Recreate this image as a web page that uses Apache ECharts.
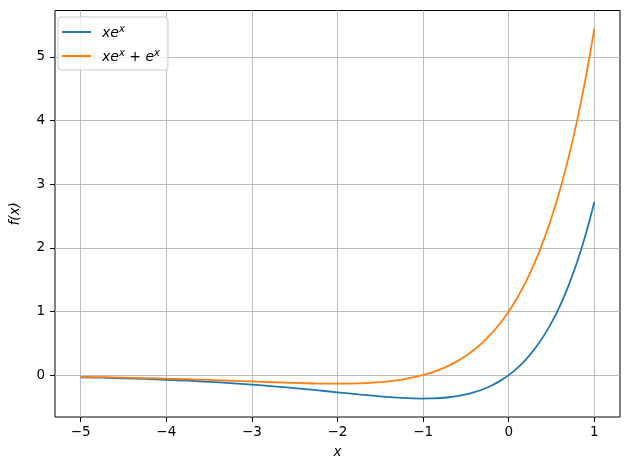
<!DOCTYPE html>
<html>
<head>
<meta charset="utf-8">
<script src="https://cdn.jsdelivr.net/npm/echarts@6/dist/echarts.min.js"></script>
<style>html,body{margin:0;padding:0;background:#fff}#c{width:630px;height:470px}</style>
</head>
<body>
<div id="c"></div>
<script>
const xValues = [-5, -4.75, -4.5, -4.25, -4, -3.75, -3.5, -3.25, -3, -2.75, -2.5, -2.25, -2, -1.75, -1.5, -1.25,
  -1, -0.9, -0.8, -0.7, -0.6, -0.5, -0.4, -0.3, -0.2, -0.1, 0, 0.1, 0.2, 0.3, 0.4, 0.5, 0.6, 0.7, 0.8, 0.9, 1];
const xexValues = [-0.0337, -0.0411, -0.0500, -0.0606, -0.0733, -0.0882, -0.1057, -0.1260, -0.1494, -0.1758, -0.2052, -0.2371, -0.2707, -0.3041, -0.3347, -0.3581,
  -0.3679, -0.3650, -0.3595, -0.3476, -0.3293, -0.3033, -0.2681, -0.2222, -0.1637, -0.0905, 0, 0.1105, 0.2443, 0.4050, 0.5967, 0.8244, 1.0933, 1.4096, 1.7804, 2.2136, 2.7183];
const xexPlusExValues = [-0.0270, -0.0324, -0.0389, -0.0464, -0.0549, -0.0647, -0.0755, -0.0872, -0.0996, -0.1119, -0.1231, -0.1317, -0.1353, -0.1303, -0.1116, -0.0716,
  0, 0.0406, 0.0899, 0.1490, 0.2195, 0.3033, 0.4022, 0.5186, 0.6550, 0.8144, 1, 1.2157, 1.4657, 1.7548, 2.0886, 2.4731, 2.9154, 3.4234, 4.0060, 4.6732, 5.4366];
const xTicks = [-5, -4, -3, -2, -1, 0, 1];
const yTicks = [0, 1, 2, 3, 4, 5];
const seriesNames = ['xex', 'xexex'];

const font = 'DejaVu Sans';
const minus = v => String(v).replace('-', '\u2212');
const chart = echarts.init(document.getElementById('c'), null, {renderer: 'canvas'});

function axisCommon(ticks, margin) {
  return {
    axisLine: {show: false, onZero: false},
    axisTick: {show: true, inside: false, length: 5, customValues: ticks, lineStyle: {color: '#000', width: 1}},
    axisLabel: {customValues: ticks, color: '#000', fontFamily: font, fontSize: 13.5, formatter: minus, margin: margin},
    splitLine: {show: true, customValues: ticks, lineStyle: {color: '#bcbcbc', width: 1}}
  };
}

chart.setOption({
  animation: false,
  backgroundColor: '#fff',
  grid: {left: 50.5, right: 10, top: 10.5, bottom: 53, show: true, borderColor: '#000', borderWidth: 1, backgroundColor: 'transparent', containLabel: false},
  xAxis: Object.assign({
    type: 'value', min: -5.3, max: 1.3,
    name: 'x', nameLocation: 'middle', nameGap: 28,
    nameTextStyle: {fontFamily: font, fontStyle: 'italic', fontSize: 13.5, color: '#000'}
  }, axisCommon(xTicks, 8)),
  yAxis: Object.assign({
    type: 'value', min: -0.658, max: 5.727,
    name: 'f(x)', nameLocation: 'middle', nameGap: 33, nameRotate: 90,
    nameTextStyle: {fontFamily: font, fontStyle: 'italic', fontSize: 13.5, color: '#000'}
  }, axisCommon(yTicks, 10)),
  legend: {
    orient: 'vertical', left: 58, top: 17,
    padding: [7, 8, 4, 4],
    itemGap: 6,
    itemWidth: 29, itemHeight: 2,
    icon: 'rect',
    backgroundColor: 'rgba(255,255,255,0.8)',
    borderColor: '#cccccc', borderWidth: 1, borderRadius: 3,
    data: seriesNames,
    formatter: function (name) {
      if (name === 'xex') return '{m|xe}{s|x}';
      return '{m|xe}{s|x}{m| + e}{s|x}';
    },
    textStyle: {
      fontFamily: font, color: '#000', padding: [0, 0, 0, 6],
      rich: {
        m: {fontFamily: font, fontStyle: 'italic', fontSize: 14, color: '#000', verticalAlign: 'bottom', lineHeight: 16},
        s: {fontFamily: font, fontStyle: 'italic', fontSize: 10, color: '#000', verticalAlign: 'top', lineHeight: 16, padding: [0, 0, 8, 0]}
      }
    }
  },
  series: [
    {name: 'xex', type: 'line', symbol: 'none', showSymbol: false, smooth: 0.4,
     lineStyle: {color: '#1f77b4', width: 1.8}, itemStyle: {color: '#1f77b4'},
     data: xValues.map((x, i) => [x, xexValues[i]])},
    {name: 'xexex', type: 'line', symbol: 'none', showSymbol: false, smooth: 0.4,
     lineStyle: {color: '#ff7f0e', width: 1.8}, itemStyle: {color: '#ff7f0e'},
     data: xValues.map((x, i) => [x, xexPlusExValues[i]])}
  ]
});
</script>
</body>
</html>
